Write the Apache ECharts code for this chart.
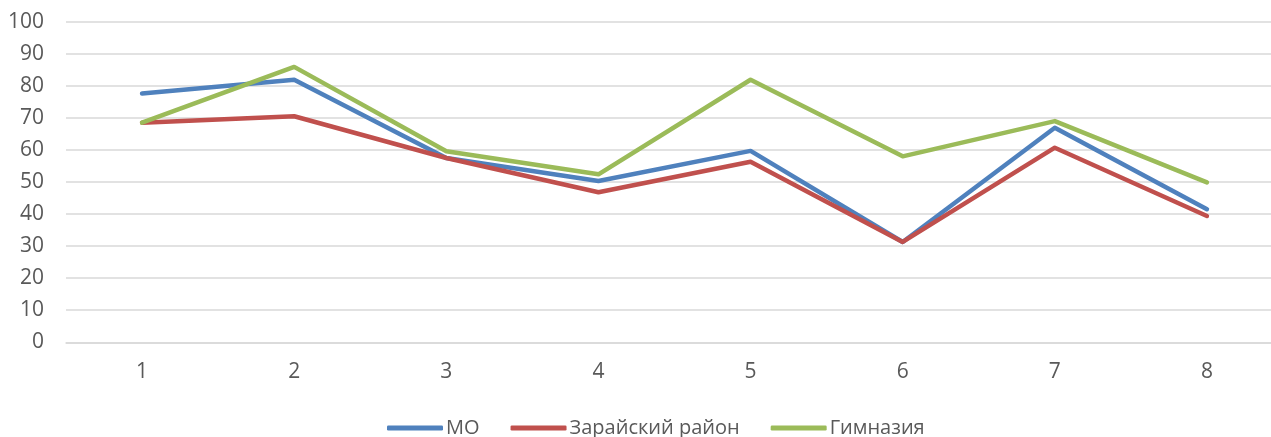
<!DOCTYPE html>
<html>
<head>
<meta charset="utf-8">
<script src="https://cdn.jsdelivr.net/npm/echarts@6/dist/echarts.min.js"></script>
<style>html,body{margin:0;padding:0;background:#fff}#c{width:1271px;height:437px}</style>
</head>
<body>
<div id="c"></div>
<script>
const categories = ['1','2','3','4','5','6','7','8'];
const seriesNames = ['МО','Зарайский район','Гимназия'];
const moValues = [77.6, 81.9, 57.5, 50.3, 59.7, 31.3, 66.9, 41.5];
const districtValues = [68.5, 70.5, 57.5, 46.8, 56.3, 31.3, 60.7, 39.4];
const gymnasiumValues = [68.5, 85.9, 59.6, 52.4, 81.9, 58.0, 69.0, 49.9];
const colors = ['#4F81BD', '#C0504D', '#9BBB59'];
const font = '"Open Sans", "Noto Sans", sans-serif';

const chart = echarts.init(document.getElementById('c'), null, {renderer: 'canvas'});
const data = [moValues, districtValues, gymnasiumValues];
chart.setOption({
  animation: false,
  color: colors,
  grid: {left: 66, width: 1217, top: 21.7, bottom: 94.7, containLabel: false, outerBoundsMode: 'none'},
  legend: {
    left: 382, top: 413,
    itemWidth: 56, itemHeight: 5, itemGap: 31,
    icon: 'roundRect',
    textStyle: {color: '#595959', fontSize: 20, fontFamily: font, padding: [0,0,0,-2]},
    data: seriesNames
  },
  xAxis: {
    type: 'category', data: categories, boundaryGap: true,
    axisLine: {lineStyle: {color: '#d9d9d9', width: 1.5}},
    axisTick: {show: false},
    axisLabel: {color: '#595959', fontSize: 21, fontFamily: font, margin: 19}
  },
  yAxis: {
    type: 'value', min: 0, max: 100, interval: 10,
    axisLine: {show: false}, axisTick: {show: false},
    splitLine: {lineStyle: {color: '#d9d9d9', width: 1.5}},
    axisLabel: {color: '#595959', fontSize: 21, fontFamily: font, margin: 22}
  },
  series: seriesNames.map((n, i) => ({
    name: n, type: 'line', data: data[i],
    symbol: 'none', lineStyle: {width: 4.5, cap: 'round', join: 'round'},
    itemStyle: {color: colors[i]}
  }))
});
</script>
</body>
</html>
